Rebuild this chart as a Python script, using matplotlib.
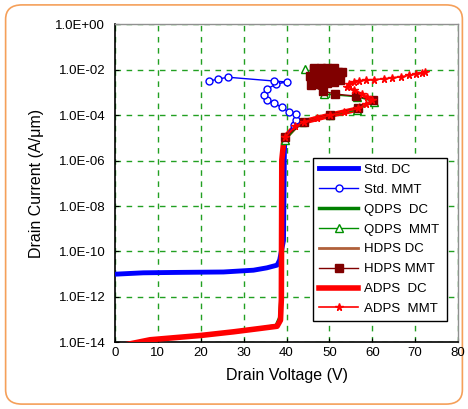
import matplotlib
matplotlib.use("Agg")
import matplotlib.pyplot as plt
from matplotlib.patches import FancyBboxPatch
from matplotlib.ticker import FixedLocator

plt.rcParams['font.family'] = ['Liberation Sans', 'DejaVu Sans']

# ---- data ----
std_dc_v = [0, 6.6, 15, 25.3, 32.3, 35.4, 37.8, 38.4, 39.3, 39.5, 39.6]
std_dc_i = [1.0e-11, 1.15e-11, 1.2e-11, 1.25e-11, 1.5e-11, 1.9e-11, 2.5e-11, 4.2e-11, 3e-10, 2e-6, 8e-6]

std_mmt_v = [39.7, 41.7, 42.1, 42.2, 40.5, 38.9, 37.0, 35.4, 34.7, 35.4, 37.5, 40.0, 37.0, 26.3, 24.1, 22.0]
std_mmt_i = [1e-5, 3.7e-5, 6.2e-5, 1.1e-4, 1.4e-4, 2.2e-4, 3.5e-4, 4.7e-4, 7.8e-4, 1.4e-3,
             2.3e-3, 2.9e-3, 3.2e-3, 4.7e-3, 3.9e-3, 3.2e-3]

qdps_dc_v = [2.7, 8.2, 19.9, 27.6, 33.9, 37.6, 38.4, 38.7, 38.9, 39.3, 39.7]
qdps_dc_i = [8e-15, 1.3e-14, 2.0e-14, 2.9e-14, 4.1e-14, 5.5e-14, 1.2e-13, 8e-13, 1.05e-6, 5.8e-6, 1.0e-5]

qdps_mmt_v = [39.7, 43.6, 50.2, 56.5, 60.4, 56.5, 48.7, 46.0, 44.3]
qdps_mmt_i = [7.9e-6, 5.1e-5, 1.0e-4, 1.7e-4, 3.9e-4, 6.5e-4, 8.5e-4, 3.0e-3, 1.05e-2]

hdps_dc_v = [2.7, 8.2, 19.9, 27.6, 33.9, 37.8, 38.6, 38.8, 38.9, 39.3, 39.7]
hdps_dc_i = [8e-15, 1.3e-14, 2.0e-14, 2.9e-14, 4.1e-14, 5.1e-14, 9.5e-14, 8e-13, 1.05e-6, 5.8e-6, 1.1e-5]

hdps_mmt_v = [39.7, 44.0, 50.1, 56.7, 60.1, 56.3, 51.4, 48.5, 45.6, 46.5, 48.0, 49.5, 51.0, 52.5,
              51.5, 50.0, 48.5, 47.0, 45.8, 45.5, 46.5, 48.0, 49.5, 51.0, 52.5, 53.0,
              52.0, 50.5, 49.0, 47.5, 46.3, 46.5, 48.0, 49.5, 51.0]
hdps_mmt_i = [1.1e-5, 5.0e-5, 1.05e-4, 2.0e-4, 4.6e-4, 6.9e-4, 8.5e-4, 1.15e-3, 2.1e-3, 2.3e-3,
              2.5e-3, 2.7e-3, 3.0e-3, 3.4e-3, 3.8e-3, 4.1e-3, 4.3e-3, 4.4e-3, 4.6e-3, 5.3e-3,
              5.8e-3, 6.0e-3, 6.2e-3, 6.5e-3, 7.0e-3, 7.6e-3, 8.3e-3, 9.0e-3, 9.6e-3, 1.0e-2,
              1.05e-2, 1.2e-2, 1.25e-2, 1.25e-2, 1.2e-2]

adps_dc_v = [2.7, 8.2, 19.9, 27.6, 33.9, 37.8, 38.6, 38.8, 38.9, 39.3, 39.7, 40.9, 42.4, 44.0, 50.2, 55.7, 56.9]
adps_dc_i = [8e-15, 1.3e-14, 2.0e-14, 2.9e-14, 4.1e-14, 5.1e-14, 9.5e-14, 8e-13, 1.05e-6, 5.8e-6,
             1.1e-5, 1.9e-5, 3.7e-5, 5.1e-5, 1.0e-4, 1.7e-4, 2.3e-4]

adps_mmt_v = [39.7, 42.0, 44.0, 47.0, 50.2, 53.5, 56.7, 58.5, 60.0, 58.8, 57.5, 55.8, 54.1, 54.5,
              55.7, 57.0, 58.5, 60.5, 62.7, 64.5, 66.6, 68.5, 70.1, 71.5, 72.4]
adps_mmt_i = [1.1e-5, 3.2e-5, 5.1e-5, 7.2e-5, 1.0e-4, 1.4e-4, 2.0e-4, 3.0e-4, 4.6e-4, 6.3e-4,
              8.9e-4, 1.3e-3, 1.8e-3, 2.4e-3, 3.0e-3, 3.3e-3, 3.5e-3, 3.7e-3, 4.0e-3, 4.4e-3,
              4.9e-3, 5.6e-3, 6.5e-3, 7.2e-3, 7.9e-3]

y_ticks = [1e0, 1e-2, 1e-4, 1e-6, 1e-8, 1e-10, 1e-12, 1e-14]
y_tick_labels = ["1.0E+00", "1.0E-02", "1.0E-04", "1.0E-06", "1.0E-08", "1.0E-10", "1.0E-12", "1.0E-14"]
x_ticks = [0, 10, 20, 30, 40, 50, 60, 70, 80]

# ---- figure ----
fig = plt.figure(figsize=(4.68, 4.09), dpi=100)
border = FancyBboxPatch((0.012, 0.012), 0.976, 0.976, transform=fig.transFigure,
                        boxstyle="round,pad=0,rounding_size=0.035", fc='white',
                        ec='#f5a05a', lw=1.2, zorder=-1)
fig.patches.append(border)

ax = fig.add_axes([0.2457, 0.163, 0.733, 0.7775])
ax.set_yscale('log')
ax.set_xlim(0, 80)
ax.set_ylim(1e-14, 1e0)

ax.plot(std_dc_v, std_dc_i, color='#0000ff', lw=3.5, label='Std. DC', zorder=3)
ax.plot(std_mmt_v, std_mmt_i, color='#0000ff', lw=1, marker='o', ms=5, mfc='white', mec='#0000ff',
        markevery=list(range(1, 16)), label='Std. MMT', zorder=4)
ax.plot(qdps_dc_v, qdps_dc_i, color='#008000', lw=2.5, label='QDPS  DC', zorder=2)
ax.plot(qdps_mmt_v, qdps_mmt_i, color='#009000', lw=1, marker='^', ms=6, mfc='white', mec='#009000',
        label='QDPS  MMT', zorder=4)
ax.plot(hdps_dc_v, hdps_dc_i, color='#b0603a', lw=2, label='HDPS DC', zorder=2)
ax.plot(hdps_mmt_v, hdps_mmt_i, color='#800000', lw=1, marker='s', ms=5.5, mfc='#800000', mec='#800000',
        label='HDPS MMT', zorder=5)
ax.plot(adps_dc_v, adps_dc_i, color='#ff0000', lw=4, label='ADPS  DC', zorder=3)
ax.plot(adps_mmt_v, adps_mmt_i, color='#ff0000', lw=1.2, marker='*', ms=5.5, mfc='#ff0000', mec='#ff0000',
        label='ADPS  MMT', zorder=6)

ax.yaxis.set_major_locator(FixedLocator(y_ticks))
ax.yaxis.set_minor_locator(FixedLocator([]))
ax.set_yticklabels(y_tick_labels)
ax.set_xticks(x_ticks)
ax.tick_params(axis='both', labelsize=9.5, direction='in', length=3, colors='black')
ax.tick_params(axis='y', pad=7)
ax.grid(True, which='major', color='#22a022', ls=(0, (4, 4)), lw=1)

for s in ['left', 'bottom']:
    ax.spines[s].set_color('black')
    ax.spines[s].set_linewidth(1.2)
for s in ['top', 'right']:
    ax.spines[s].set_color('#909090')
    ax.spines[s].set_linewidth(1)

ax.set_xlabel('Drain Voltage (V)', fontsize=11.5, labelpad=6)
ax.set_ylabel('Drain Current (A/μm)', fontsize=11.5, labelpad=8)

leg = ax.legend(loc='lower left', bbox_to_anchor=(0.577, 0.067, 0.391, 0.506), mode='expand',
                fontsize=9.5, frameon=True, fancybox=False, framealpha=1, edgecolor='black',
                borderaxespad=0, handlelength=3.0, labelspacing=0.58, handletextpad=0.4,
                borderpad=0.45)
leg.get_frame().set_linewidth(1)

fig.savefig('out.png', dpi=100)
